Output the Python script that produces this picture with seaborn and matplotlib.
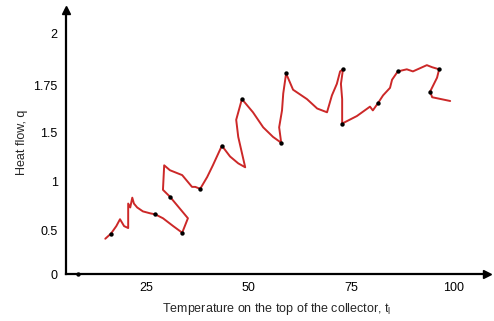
import numpy as np
import pandas as pd
import matplotlib
matplotlib.use("Agg")
import matplotlib.pyplot as plt
import seaborn as sns

# ---- data ----
temp = [14.9, 16.3, 17.6, 18.5, 19.5, 20.5, 20.5, 21.0, 21.5, 21.9, 22.7, 24.1,
        25.9, 27.1, 29.0, 31.5, 33.7, 35.1, 30.7, 29.0, 29.3, 30.7, 33.7, 36.1,
        36.9, 38.1, 39.8, 41.2, 43.4, 45.4, 47.4, 49.1, 47.4, 46.9, 48.3, 51.0,
        53.5, 55.9, 57.9, 57.4, 58.1, 58.4, 59.1, 60.8, 64.2, 66.7, 69.1, 70.3,
        71.5, 72.3, 73.0, 72.5, 72.8, 72.8, 76.4, 79.6, 80.3, 81.6, 82.8, 84.5,
        85.0, 86.4, 88.6, 90.1, 93.5, 94.8, 96.5, 96.0, 94.3, 94.8, 99.2]
heat = [0.41, 0.47, 0.55, 0.62, 0.55, 0.53, 0.78, 0.74, 0.84, 0.78, 0.74, 0.70,
        0.68, 0.67, 0.63, 0.55, 0.48, 0.63, 0.85, 0.92, 1.17, 1.12, 1.07, 0.95,
        0.95, 0.93, 1.05, 1.17, 1.37, 1.26, 1.19, 1.15, 1.46, 1.57, 1.68, 1.61,
        1.53, 1.46, 1.40, 1.53, 1.62, 1.71, 1.81, 1.73, 1.68, 1.63, 1.61, 1.70,
        1.76, 1.82, 1.83, 1.76, 1.68, 1.55, 1.59, 1.64, 1.62, 1.66, 1.70, 1.74,
        1.78, 1.82, 1.83, 1.82, 1.85, 1.84, 1.83, 1.79, 1.72, 1.69, 1.67]

# marked points
pt_temp = [8.3, 16.3, 27.1, 33.7, 30.7, 38.1, 43.4, 48.3, 57.9, 59.1, 73.0,
           72.8, 81.6, 86.4, 96.5, 94.3]
pt_heat = [0.0, 0.47, 0.67, 0.48, 0.85, 0.93, 1.37, 1.68, 1.40, 1.81, 1.83,
           1.55, 1.66, 1.82, 1.83, 1.72]

x_ticks = [25, 50, 75, 100]
x_tick_labels = ["25", "50", "75", "100"]
y_ticks = [0, 0.5, 1, 1.5, 1.75, 2]
y_tick_labels = ["0", "0.5", "1", "1.5", "1.75", "2"]

line_df = pd.DataFrame({"t": temp, "q": heat})
pts_df = pd.DataFrame({"t": pt_temp, "q": pt_heat})

# ---- style ----
sns.set_style("white")
plt.rcParams["font.family"] = ["Liberation Sans", "DejaVu Sans"]

fig = plt.figure(figsize=(4.94, 3.21), dpi=100)
ax = fig.add_axes([0.1336, 0.1464, 0.8522, 0.8224])

# the reference y axis has evenly spaced ticks labelled 0,0.5,1,1.5,1.75,2:
# reproduce it as a piecewise-linear scale
Yk = np.array([-1, 0, 0.5, 1, 1.5, 1.75, 2, 3])
Pk = np.array([-86, 0, 43, 92, 141, 188, 240, 448], dtype=float)
def fwd(v):
    return np.interp(v, Yk, Pk)
def inv(p):
    return np.interp(p, Pk, Yk)
ax.set_yscale("function", functions=(fwd, inv))

sns.lineplot(data=line_df, x="t", y="q", sort=False, estimator=None,
             color="#cc2828", linewidth=1.4, ax=ax, zorder=2)
sns.scatterplot(data=pts_df, x="t", y="q", color="black", s=10,
                edgecolor="black", linewidth=0, ax=ax, zorder=3, clip_on=False)

ax.set_xlim(5.3, 108.2)
ax.set_ylim(0, 2.115)
ax.set_xticks(x_ticks)
ax.set_xticklabels(x_tick_labels)
ax.set_yticks(y_ticks)
ax.set_yticklabels(y_tick_labels)
ax.minorticks_off()

for s in ["top", "right"]:
    ax.spines[s].set_visible(False)
for s in ["left", "bottom"]:
    ax.spines[s].set_color("black")
    ax.spines[s].set_linewidth(1.6)

ax.tick_params(axis="both", direction="inout", length=6, width=1.2,
               colors="black", labelsize=9, pad=3)
ax.tick_params(axis="x", pad=3)

# arrow heads
ax.plot(0, 1, marker="^", color="black", markersize=6, transform=ax.transAxes,
        clip_on=False)
ax.plot(1, 0, marker=">", color="black", markersize=6, transform=ax.transAxes,
        clip_on=False)

ax.set_xlabel(r"Temperature on the top of the collector, t$_\mathregular{l}$",
              fontsize=9, labelpad=5)
ax.set_ylabel("Heat flow, q", fontsize=9, labelpad=4)

fig.savefig("out.png", dpi=100)
